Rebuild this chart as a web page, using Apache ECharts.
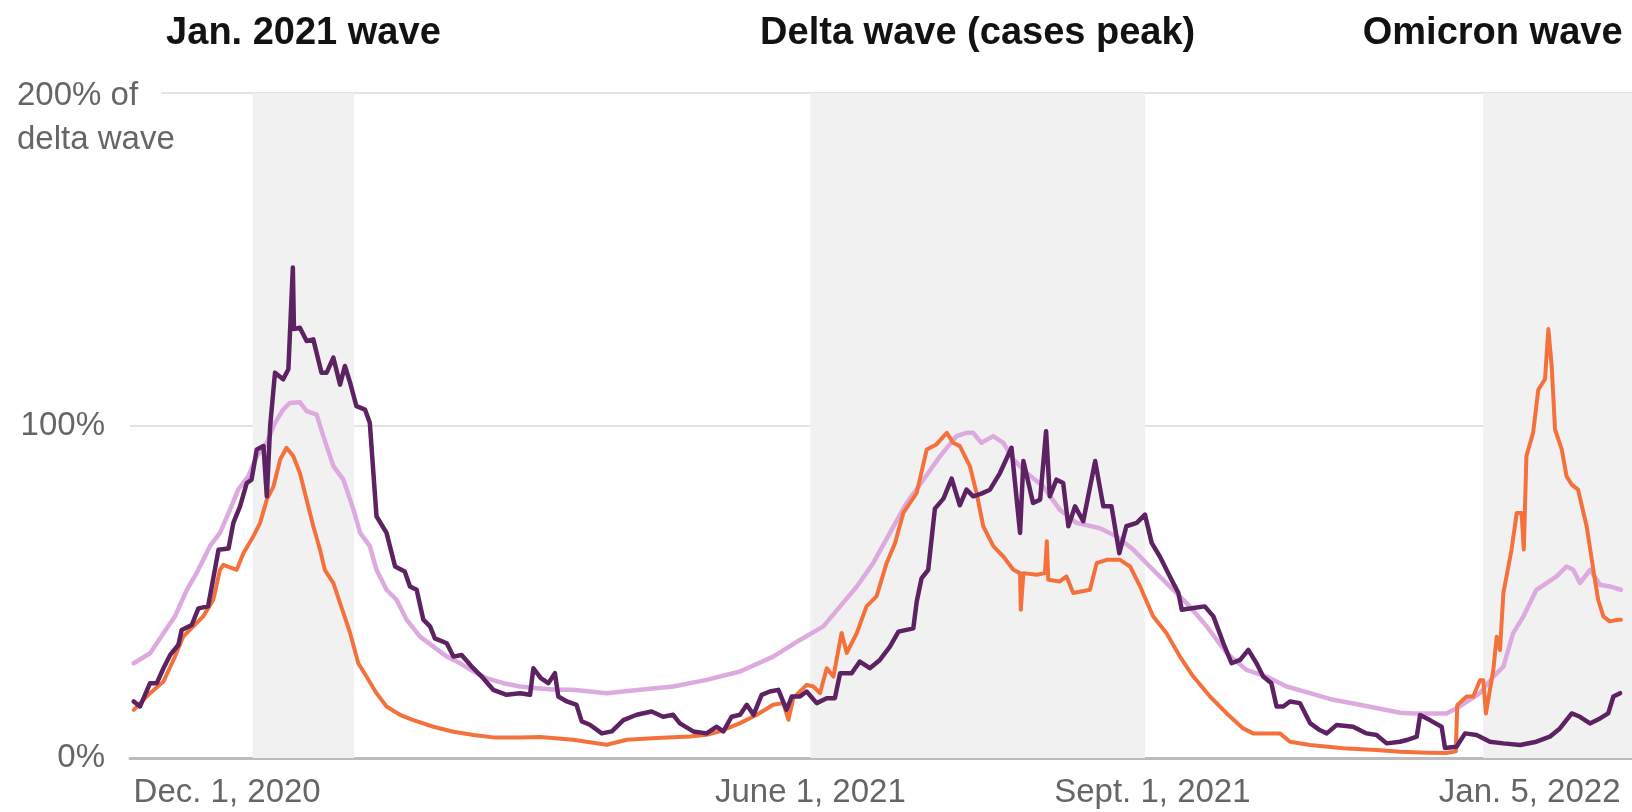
<!DOCTYPE html>
<html><head><meta charset="utf-8">
<script src="https://cdn.jsdelivr.net/npm/echarts@6/dist/echarts.min.js"></script>
<style>html,body{margin:0;padding:0;background:#fff}#c{width:1632px;height:812px}</style>
</head><body><div id="c"></div>
<script>
// x values are days since Dec. 1, 2020; y values are % of the delta wave peak.
const tickDays = [0, 182, 274, 400];
const tickLabels = ['Dec. 1, 2020', 'June 1, 2021', 'Sept. 1, 2021', 'Jan. 5, 2022'];
const yTicks = [0, 100, 200];
const yTickLabels = ['0%', '100%', '200% of|delta wave'];
const waveNames = ['Jan. 2021 wave', 'Delta wave (cases peak)', 'Omicron wave'];
const waveStartDays = [32, 182, 363];
const waveEndDays = [59.3, 272, 403];
const axisStartDay = -1;
const axisEndDay = 403;

const casesPoints = [[0,14.5],[4.4,19.5],[8,23],[10.7,29.5],[13.3,36.5],[16,39.6],[18.7,42.6],[21.4,47.6],[23.2,56.6],[24.1,58.1],[27.7,56.6],[29.5,61.6],[32.2,66.7],[34,70.7],[35.8,77.7],[37.6,81.7],[39.4,89.8],[41.1,93.3],[42.9,90.8],[44.7,85.7],[46.5,77.7],[48.3,69.7],[50.1,62.7],[51.4,56.6],[53.7,52.6],[55.5,46.6],[58.2,37.6],[60.4,28.5],[62.6,24.5],[65.3,19.5],[68,15.5],[71.6,13],[75.2,11.4],[80.6,9.4],[86,7.9],[91.4,6.9],[96.7,6.2],[103.9,6.2],[109.3,6.3],[118.2,5.5],[127.2,4],[132.6,5.5],[140.7,6],[149.6,6.5],[154.1,7],[157.7,8],[163.1,10.5],[167.6,13],[172,16],[174.7,16.5],[176.1,11.5],[177.4,18],[181,22],[182.8,21.5],[184.6,19.5],[186.4,27],[188.2,24.5],[190.4,37.6],[191.8,31.6],[194.5,37.6],[197.1,45.6],[199.8,48.6],[202.5,58.6],[204.8,64.7],[207,73.7],[210.6,79.7],[213.3,92.8],[215.9,94.3],[218.7,97.8],[220.4,94.8],[222.2,93.8],[224.9,87.8],[226.7,79.7],[228.5,69.7],[231.2,63.7],[233.9,60.6],[236.6,56.6],[238.4,55.6],[238.6,44.6],[239.3,55.6],[242.9,55.1],[245.1,55.6],[245.6,65.2],[246,53.6],[249.1,53.1],[250.9,54.6],[252.7,49.6],[257.2,50.6],[259,58.6],[261.7,59.6],[265.3,59.6],[268,57.6],[270.7,51.6],[274.2,42.6],[277.8,37.5],[281.4,30.5],[285,24.5],[289.5,18.5],[294,13.4],[298.4,8.9],[301.1,7.4],[308.3,7.4],[311,4.9],[316.4,3.9],[325.3,2.9],[334.3,2.4],[340.6,1.9],[348,1.6],[353,1.5],[355.6,2],[356,15.9],[358.5,18.5],[360.3,18.5],[362.1,23.4],[363,23.4],[363.7,13.4],[365.7,26.5],[366.6,36.5],[367.5,32.5],[368.4,49.6],[370.6,62.7],[372,73.7],[373.3,73.7],[373.9,62.7],[374.6,90.8],[376.4,97.8],[377.8,110.8],[379.6,113.9],[380.5,129],[381.4,117.9],[382.3,98.8],[384.1,92.8],[385.4,84.7],[386.8,82.2],[388.5,80.7],[390.8,69.7],[392.6,56.6],[393.9,47.6],[395.3,42.6],[397,41.1],[399.3,41.6],[400,41.6]];

const hospPoints = [[0,28.5],[4.4,31.5],[8,37.5],[11.1,42.6],[14.3,50.6],[16.9,55.6],[20.5,63.7],[23.2,67.7],[25.9,74.7],[28.1,80.7],[30.8,84.7],[33.1,90.8],[35.8,94.8],[38,100.8],[40.2,104.8],[42,106.8],[44.7,107],[46.5,104.3],[49.2,103.3],[51,96.8],[53.7,87.8],[56.4,83.7],[59.1,74.7],[60.9,67.7],[63.5,63.7],[65.3,56.6],[68,50.6],[70.7,47.6],[73.4,41.6],[77,36.5],[80.6,33.5],[84.2,30.5],[87.8,28.5],[91.4,26],[94.9,24],[99.4,22.5],[103.9,21.5],[108.4,21],[113.8,20.5],[118.2,20.5],[127.2,19.5],[136.2,20.5],[145.1,21.5],[154.1,23.5],[163.1,26],[172,30.5],[179.2,35.5],[185.5,39.6],[190,45.6],[194.5,51.6],[198.9,58.6],[203.4,67.7],[207.9,76.7],[212.4,83.7],[216.9,90.8],[221.3,96.8],[224,97.8],[225.8,97.8],[228,94.8],[231.2,96.8],[233.9,94.8],[236.6,89.8],[240.2,85.7],[244.6,81.7],[249.1,74.7],[253.6,70.7],[259.9,69.1],[264.4,66.6],[268.9,62.6],[273.3,57.6],[277.8,52.6],[283.2,46.6],[288.6,39.6],[294,31.5],[299.3,26.5],[304.7,24.5],[310.1,21.5],[316.4,19.5],[322.6,17.5],[329.8,16],[335.2,14.8],[340.6,13.6],[344.2,13.4],[353.1,13.4],[356.7,15.5],[362.1,19.5],[365.7,24.5],[368.4,27.5],[371,37.5],[373.8,42.6],[377.3,50.6],[380,52.6],[382.7,54.6],[385.4,57.6],[387.2,56.6],[389,52.6],[391.7,56.6],[394.4,52.1],[397,51.6],[400,50.6]];

const deathsPoints = [[0,17],[1.7,15.5],[4.4,22.5],[6.2,22.5],[8,27],[9.8,31],[12,34],[12.9,38.5],[15.6,40],[17.4,45],[20,45.6],[21.4,54],[22.8,62.6],[25.5,63],[26.8,70.7],[28.6,75.7],[30.4,82.7],[31.7,83.7],[33.1,92.8],[34.9,93.8],[35.8,78.7],[36.7,99.8],[38,115.9],[40.2,113.9],[41.6,116.9],[42.8,147.5],[43.1,129],[44.7,129.4],[46.5,125.4],[48.3,125.9],[50.5,115.9],[51.9,115.9],[53.7,120.4],[55.5,112.3],[56.8,117.9],[58.2,112.9],[59.9,105.8],[62.2,104.8],[63.5,100.8],[65.3,72.7],[68,67.7],[70.3,57.6],[72.9,56.1],[74.3,51.6],[76.1,50.6],[77.9,41.6],[79.7,39.6],[81,36],[84.2,34.5],[86,30.5],[88.2,31],[90.9,27.5],[94,24],[96.7,20.5],[100.3,19],[103.9,19.5],[106.6,19],[107.5,27],[109.5,24],[111.5,22.5],[113.3,25.5],[114.2,18.5],[116.5,17],[119.1,16],[120.5,11],[122.7,10],[125.9,7.4],[128.6,8],[131.7,11.4],[135.3,13],[139.3,14],[142.4,12.4],[145.1,13],[146.9,10.4],[150.5,8],[154.1,7.4],[156.8,9.4],[158.6,8],[160.8,12.4],[163.1,13],[164.9,16],[166.7,13],[168.9,19],[171.1,20],[173.4,20.5],[175.6,14.5],[177,18.5],[179.2,18.5],[181,20],[183.7,16.5],[186.4,18],[188.6,18],[190,25.5],[193.1,25.5],[195.3,29],[198,27],[200.7,29.5],[203.4,33.5],[205.7,38],[209.7,39],[210.6,47],[211.9,54],[213.7,56.6],[215.5,75],[217.8,78],[220,84],[222.2,76],[224,80.7],[225.8,78.7],[228,79.5],[230.3,80.7],[233,85.7],[236.1,93.3],[238.4,67.7],[239.3,89.3],[241.9,76.7],[243.8,77.7],[245.4,98.3],[246.4,78.7],[248.2,83.7],[250,82.7],[251.4,69.7],[253.2,75.7],[255.4,71.2],[258.6,89.3],[260.8,75.7],[263,75.7],[265.1,61.6],[267,69.7],[269.8,70.7],[272,73.2],[273.8,64.7],[276,60.6],[278.7,54.6],[281,49.6],[281.9,44.6],[285,45.1],[288.1,45.6],[290.4,42.6],[293.1,34.5],[295.3,28.5],[297.6,29.5],[299.8,32.5],[302,28.5],[303.8,24.5],[306,22.5],[307.4,15.5],[309.2,15.5],[311,17],[313.7,16.5],[316.4,10.5],[319,8.4],[320.9,7.4],[323.5,9.9],[328,9.4],[331.6,7.4],[334.3,6.9],[337,4.4],[340.6,4.9],[342.4,5.4],[345.1,6.4],[346,12.9],[348.6,11.4],[351.8,9.4],[352.7,3],[355.8,3.4],[358.1,7.4],[361.2,6.9],[364.8,4.9],[368.4,4.4],[372.9,3.9],[377.3,4.9],[380.9,6.4],[383.6,8.9],[386.8,13.4],[389,12.4],[391.7,10.4],[394.4,11.9],[396.6,13.4],[398,18.5],[399.8,19.5]];

const FONT = "'Liberation Sans', Arial, sans-serif";
const GREY = '#666666';

const chart = echarts.init(document.getElementById('c'), null, {renderer: 'canvas'});

const waveLabelOffsets = [[0, 0], [0, 0], [-65, 0]];

chart.setOption({
  animation: false,
  grid: {left: 130, right: 0, top: 93, bottom: 54},
  xAxis: {
    type: 'value',
    min: axisStartDay,
    max: axisEndDay,
    axisLine: {show: true, onZero: false, lineStyle: {color: '#bcbcbc', width: 3}},
    axisTick: {show: false},
    splitLine: {show: false},
    axisLabel: {
      customValues: tickDays,
      margin: 18,
      fontSize: 33,
      fontFamily: FONT,
      color: GREY,
      formatter: function (v) {
        const i = tickDays.indexOf(v);
        if (i < 0) return '';
        const txt = tickLabels[i];
        if (i === 0) return '{l|' + txt + '}';
        if (i === tickDays.length - 1) return '{r|' + txt + '}';
        return txt;
      },
      rich: {
        l: {width: 374, align: 'right', fontSize: 33, fontFamily: FONT, color: GREY},
        r: {width: 364, align: 'left', fontSize: 33, fontFamily: FONT, color: GREY}
      }
    }
  },
  yAxis: {
    type: 'value',
    min: 0,
    max: 200,
    interval: 100,
    axisLine: {show: false},
    axisTick: {show: false},
    splitLine: {show: true, lineStyle: {color: '#e3e3e3', width: 2}},
    axisLabel: {
      align: 'left',
      margin: 113,
      fontSize: 33,
      fontFamily: FONT,
      color: GREY,
      formatter: function (v) {
        const i = yTicks.indexOf(v);
        if (i < 0) return '';
        const parts = yTickLabels[i].split('|');
        if (parts.length > 1) return '{e|\u00a0}\n{t|' + parts[0] + '}\n{u|' + parts[1] + '}';
        return '{n|' + parts[0] + '}';
      },
      rich: {
        e: {lineHeight: 50, fontSize: 33, fontFamily: FONT, color: GREY},
        t: {lineHeight: 44, fontSize: 33, fontFamily: FONT, color: GREY, backgroundColor: '#ffffff', padding: [0, 23, 0, 0]},
        u: {lineHeight: 44, fontSize: 33, fontFamily: FONT, color: GREY},
        n: {width: 88, align: 'right', fontSize: 33, fontFamily: FONT, color: GREY}
      }
    }
  },
  series: [
    {
      name: 'Waves',
      type: 'line',
      data: [],
      z: 1,
      silent: true,
      markArea: {
        silent: true,
        itemStyle: {color: '#f1f1f1'},
        label: {
          show: true,
          position: 'top',
          distance: 40,
          fontSize: 38,
          fontWeight: 'bold',
          fontFamily: FONT,
          color: '#121212'
        },
        data: waveNames.map((n, i) => [
          {name: n, xAxis: waveStartDays[i], label: {offset: waveLabelOffsets[i]}},
          {xAxis: waveEndDays[i]}
        ])
      }
    },
    {
      name: 'Hospitalizations',
      type: 'line',
      data: hospPoints,
      showSymbol: false,
      z: 3,
      lineStyle: {color: '#dcaadf', width: 4.5, join: 'round', cap: 'round'},
      itemStyle: {color: '#dcaadf'}
    },
    {
      name: 'Cases',
      type: 'line',
      data: casesPoints,
      showSymbol: false,
      z: 4,
      lineStyle: {color: '#f4713c', width: 4, join: 'round', cap: 'round'},
      itemStyle: {color: '#f4713c'}
    },
    {
      name: 'Deaths',
      type: 'line',
      data: deathsPoints,
      showSymbol: false,
      z: 5,
      lineStyle: {color: '#5c2262', width: 4.5, join: 'round', cap: 'round'},
      itemStyle: {color: '#5c2262'}
    }
  ]
});
</script>
</body></html>
